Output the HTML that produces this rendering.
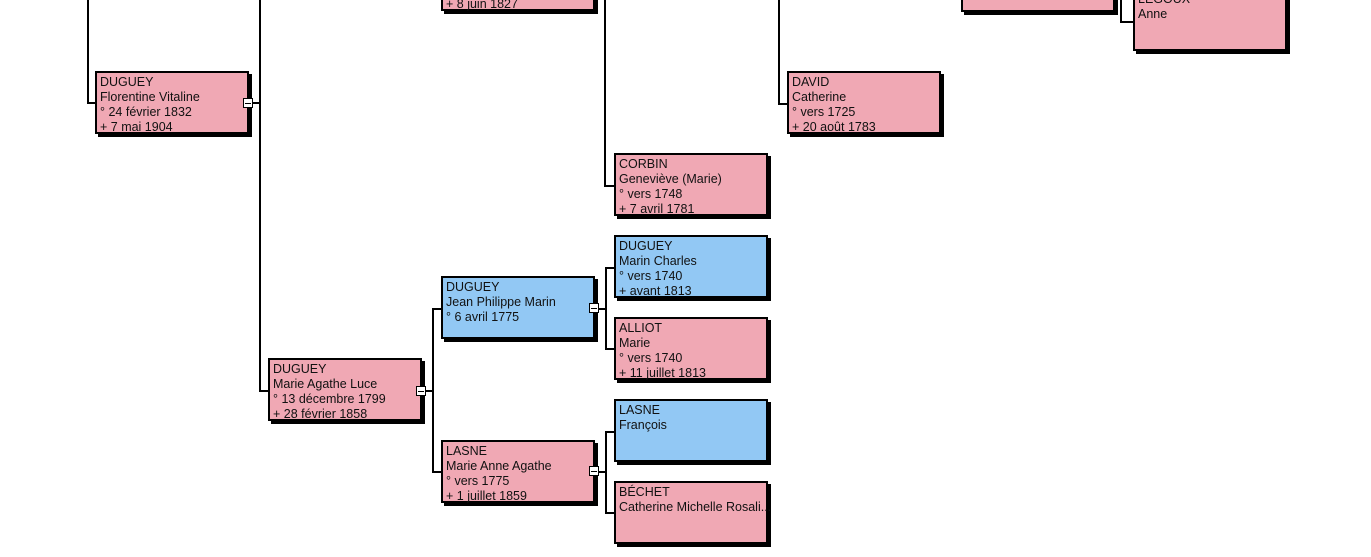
<!DOCTYPE html>
<html><head><meta charset="utf-8"><style>
body{margin:0;width:1371px;height:557px;background:#fff;position:relative;overflow:hidden;font-family:"Liberation Sans","DejaVu Sans",sans-serif;font-size:12.5px;color:#111}
.b{position:absolute;width:150px;height:59px;border:2px solid #000;box-shadow:3px 3px 0 #000;background:#f0a8b4;padding:0;box-sizing:content-box}
.b div{position:absolute;left:3px;top:2px;line-height:15px;white-space:nowrap}
.m{background:#92c8f4}
.l{position:absolute;background:#000}
.c{position:absolute;width:8px;height:8px;border:1px solid #000;background:#fff}
.c:after{content:"";position:absolute;left:1px;top:4px;width:6px;height:1px;background:#000}
</style></head><body>
<div class="l" style="left:87px;top:0;width:2px;height:104px"></div>
<div class="l" style="left:87px;top:102px;width:9px;height:2px"></div>
<div class="l" style="left:259px;top:0;width:2px;height:392px"></div>
<div class="l" style="left:250px;top:102px;width:10px;height:2px"></div>
<div class="l" style="left:259px;top:390px;width:10px;height:2px"></div>
<div class="l" style="left:424px;top:390px;width:10px;height:2px"></div>
<div class="l" style="left:432px;top:308px;width:2px;height:165px"></div>
<div class="l" style="left:432px;top:308px;width:10px;height:2px"></div>
<div class="l" style="left:432px;top:471px;width:10px;height:2px"></div>
<div class="l" style="left:597px;top:308px;width:9px;height:2px"></div>
<div class="l" style="left:605px;top:267px;width:2px;height:83px"></div>
<div class="l" style="left:605px;top:267px;width:10px;height:2px"></div>
<div class="l" style="left:605px;top:348px;width:10px;height:2px"></div>
<div class="l" style="left:597px;top:471px;width:9px;height:2px"></div>
<div class="l" style="left:605px;top:431px;width:2px;height:83px"></div>
<div class="l" style="left:605px;top:431px;width:10px;height:2px"></div>
<div class="l" style="left:605px;top:512px;width:10px;height:2px"></div>
<div class="l" style="left:604px;top:0;width:2px;height:187px"></div>
<div class="l" style="left:604px;top:185px;width:11px;height:2px"></div>
<div class="l" style="left:778px;top:0;width:2px;height:105px"></div>
<div class="l" style="left:778px;top:103px;width:10px;height:2px"></div>
<div class="l" style="left:1120px;top:0;width:2px;height:23px"></div>
<div class="l" style="left:1120px;top:21px;width:14px;height:2px"></div>
<div class="b" style="left:441px;top:-52px"><div><br><br><br>+ 8 juin 1827</div></div>
<div class="b" style="left:961px;top:-51px"></div>
<div class="b" style="left:1133px;top:-12px"><div>LEGOUX<br>Anne</div></div>
<div class="b" style="left:95px;top:71px"><div>DUGUEY<br>Florentine Vitaline<br>° 24 février 1832<br>+ 7 mai 1904</div></div>
<div class="b" style="left:787px;top:71px"><div>DAVID<br>Catherine<br>° vers 1725<br>+ 20 août 1783</div></div>
<div class="b" style="left:614px;top:153px"><div>CORBIN<br>Geneviève (Marie)<br>° vers 1748<br>+ 7 avril 1781</div></div>
<div class="b m" style="left:614px;top:235px"><div>DUGUEY<br>Marin Charles<br>° vers 1740<br>+ avant 1813</div></div>
<div class="b" style="left:614px;top:317px"><div>ALLIOT<br>Marie<br>° vers 1740<br>+ 11 juillet 1813</div></div>
<div class="b m" style="left:614px;top:399px"><div>LASNE<br>François</div></div>
<div class="b" style="left:614px;top:481px"><div>BÉCHET<br>Catherine Michelle Rosali...</div></div>
<div class="b m" style="left:441px;top:276px"><div>DUGUEY<br>Jean Philippe Marin<br>° 6 avril 1775</div></div>
<div class="b" style="left:441px;top:440px"><div>LASNE<br>Marie Anne Agathe<br>° vers 1775<br>+ 1 juillet 1859</div></div>
<div class="b" style="left:268px;top:358px"><div>DUGUEY<br>Marie Agathe Luce<br>° 13 décembre 1799<br>+ 28 février 1858</div></div>
<div class="c" style="left:243px;top:98px"></div>
<div class="c" style="left:416px;top:386px"></div>
<div class="c" style="left:589px;top:303px"></div>
<div class="c" style="left:589px;top:466px"></div>
</body></html>
